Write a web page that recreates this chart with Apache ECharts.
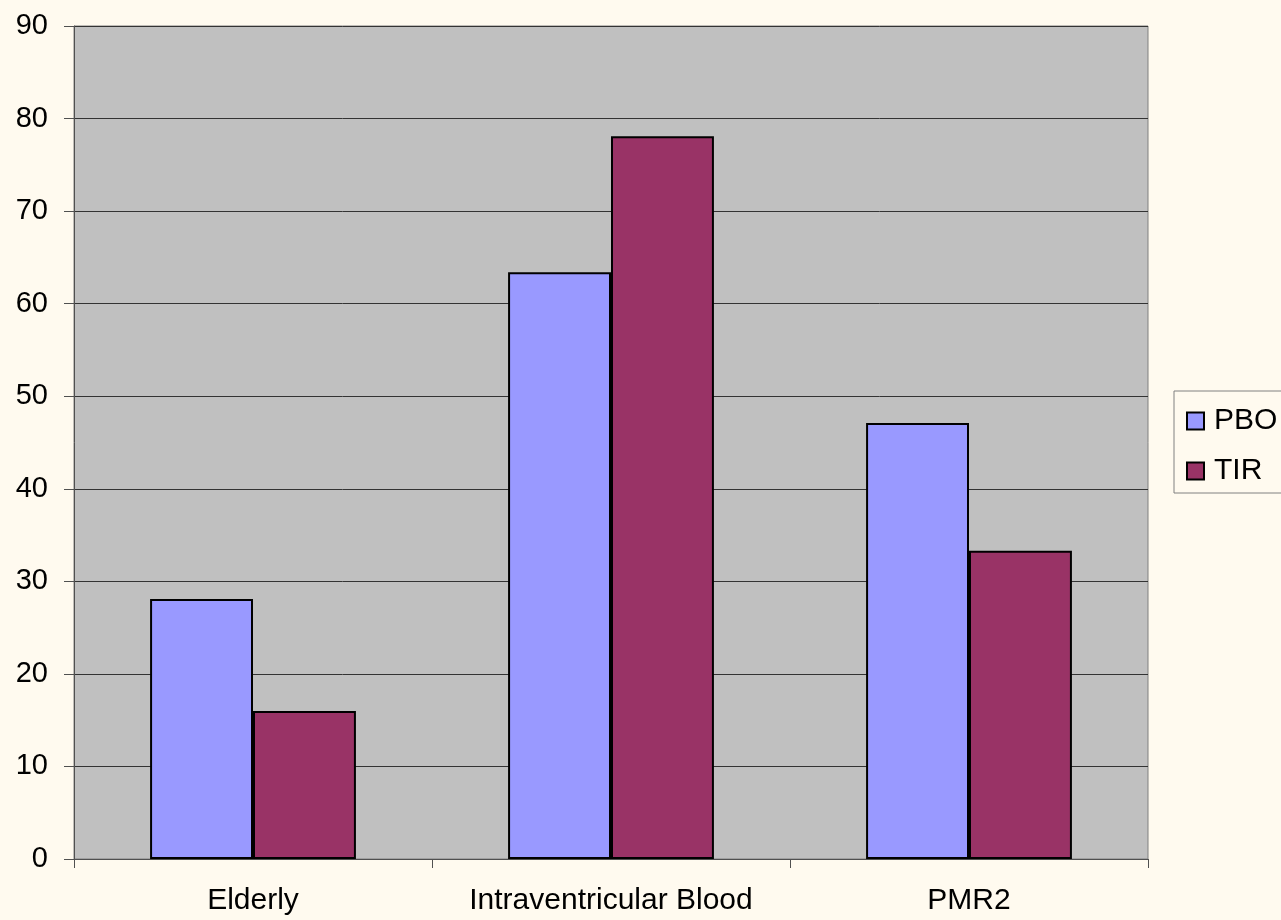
<!DOCTYPE html>
<html>
<head>
<meta charset="utf-8">
<style>
  html, body { margin: 0; padding: 0; background: #fffaef; }
  #chart { width: 1281px; height: 920px; }
</style>
<script src="https://cdn.jsdelivr.net/npm/echarts@6/dist/echarts.min.js"></script>
</head>
<body>
<div id="chart"></div>
<script>
// Group names along the x axis
const categories = ['Elderly', 'Intraventricular Blood', 'PMR2'];
// Percent values per treatment arm
const pboValues = [28.1, 63.4, 47.1];
const tirValues = [16.0, 78.1, 33.3];
const seriesNames = ['PBO', 'TIR'];

const chart = echarts.init(document.getElementById('chart'), null, { renderer: 'canvas' });

const font = "'Liberation Sans', Arial, sans-serif";
const barBorder = { borderColor: '#000', borderWidth: 2 };

chart.setOption({
  backgroundColor: '#fffaef',
  animation: false,
  grid: {
    left: 74, right: 133, top: 26, bottom: 61,
    show: true, backgroundColor: '#c0c0c0', borderColor: '#808080', borderWidth: 1
  },
  legend: {
    orient: 'vertical',
    left: 1174, top: 391,
    padding: [15, 60, 7, 12],
    itemWidth: 17, itemHeight: 17, itemGap: 20,
    icon: 'rect',
    backgroundColor: '#fffaef',
    borderColor: '#808080', borderWidth: 1,
    itemStyle: { borderColor: '#000', borderWidth: 2 },
    textStyle: { fontFamily: font, fontSize: 30, color: '#000', padding: [0, 0, 0, 5] },
    data: seriesNames
  },
  xAxis: {
    type: 'category',
    data: categories,
    axisLine: { lineStyle: { color: '#505050', width: 1 } },
    axisTick: { show: true, interval: 0, length: 9, lineStyle: { color: '#505050' } },
    axisLabel: { interval: 0, hideOverlap: false, fontFamily: font, fontSize: 30, color: '#000', margin: 27 },
    splitLine: { show: false }
  },
  yAxis: {
    type: 'value',
    min: 0, max: 90, interval: 10,
    axisLine: { show: true, lineStyle: { color: '#505050', width: 1 } },
    axisTick: { show: true, length: 10, lineStyle: { color: '#505050' } },
    axisLabel: { fontFamily: font, fontSize: 29, color: '#000', margin: 26 },
    splitLine: { show: true, lineStyle: { color: '#333', width: 1 } }
  },
  series: [
    {
      name: seriesNames[0], type: 'bar', data: pboValues,
      barGap: '0%', barCategoryGap: '42.5%',
      itemStyle: Object.assign({ color: '#9999ff' }, barBorder)
    },
    {
      name: seriesNames[1], type: 'bar', data: tirValues,
      barGap: '0%', barCategoryGap: '42.5%',
      itemStyle: Object.assign({ color: '#993366' }, barBorder)
    }
  ]
});
</script>
</body>
</html>
